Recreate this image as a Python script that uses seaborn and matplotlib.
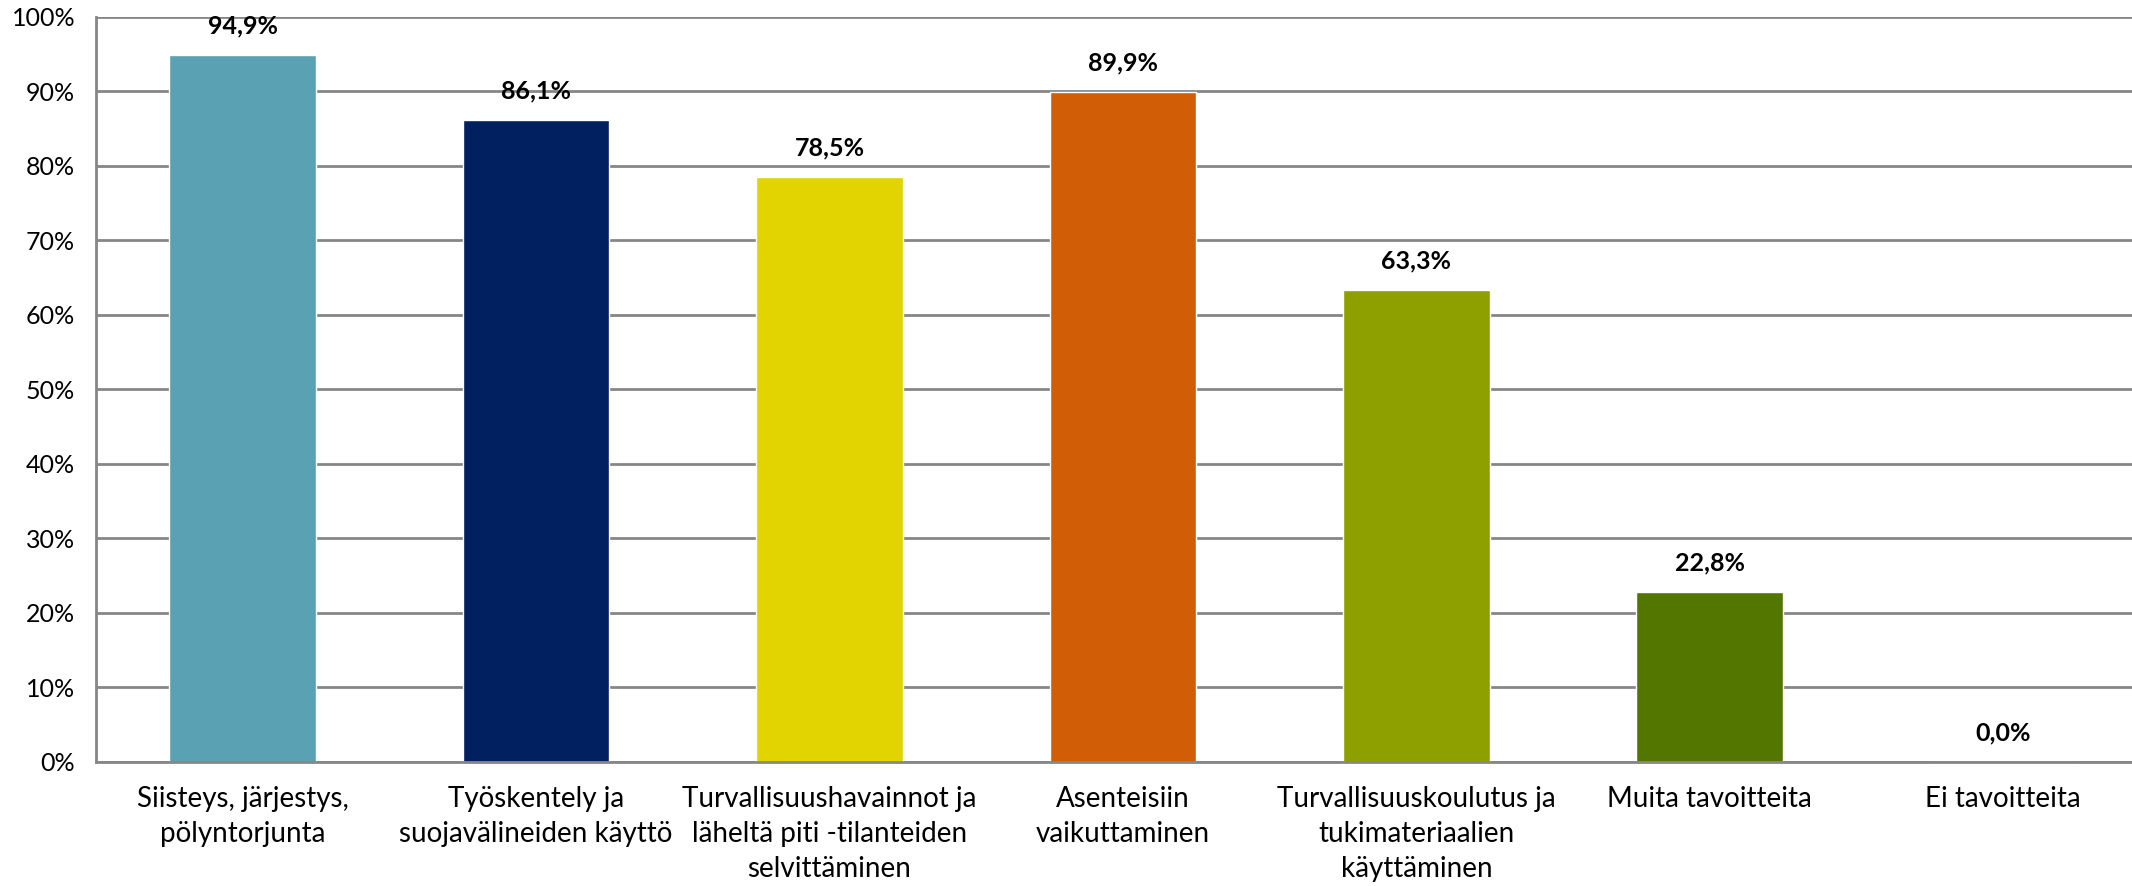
import pandas as pd
import numpy as np
import matplotlib.pyplot as plt
import seaborn as sns
from matplotlib.ticker import PercentFormatter

sns.set_style('white')
plt.rcParams['font.family'] = ['Lato', 'DejaVu Sans']

categories = ['Siisteys, järjestys,\npölyntorjunta',
              'Työskentely ja\nsuojavälineiden käyttö',
              'Turvallisuushavainnot ja\nläheltä piti -tilanteiden\nselvittäminen',
              'Asenteisiin\nvaikuttaminen',
              'Turvallisuuskoulutus ja\ntukimateriaalien\nkäyttäminen',
              'Muita tavoitteita',
              'Ei tavoitteita']
values = [94.9, 86.1, 78.5, 89.9, 63.3, 22.8, 0.0]
colors = ['#5BA1B4', '#002060', '#E1D400', '#D15E07', '#8DA000', '#537600', '#7F7F7F']

df = pd.DataFrame({'Tavoite': categories, 'Osuus': values})

fig = plt.figure(figsize=(21.32, 8.86), dpi=100)
# plot area runs a little past the right edge, as in the original export
ax = fig.add_axes([0.045, 0.14, 0.9634, 0.841])
sns.barplot(data=df, x='Tavoite', y='Osuus', hue='Tavoite', palette=colors,
            legend=False, width=0.5, saturation=1, ax=ax)

ax.set_xlim(-0.5, len(categories) - 0.5)
ax.set_ylim(0, 100)
ax.set_yticks(np.arange(0, 101, 10))
ax.yaxis.set_major_formatter(PercentFormatter(decimals=0))
ax.grid(axis='y', color='#868686', linewidth=2)
ax.set_axisbelow(True)
ax.set_xlabel('')
ax.set_ylabel('')
for s in ['top', 'right']:
    ax.spines[s].set_visible(False)
for s in ['left', 'bottom']:
    ax.spines[s].set_color('#868686')
    ax.spines[s].set_linewidth(2)
ax.tick_params(axis='y', length=0, pad=15, labelsize=18, labelcolor='#000000')
ax.tick_params(axis='x', length=0, pad=17, labelsize=20, labelcolor='#000000')
for lbl in ax.get_xticklabels():
    lbl.set_linespacing(1.45)

for i, v in enumerate(values):
    ax.annotate(f'{v:.1f}%'.replace('.', ','), (i, v), xytext=(0, 21),
                textcoords='offset points', ha='center', va='center',
                fontsize=18, fontweight='bold', color='#000000')

fig.savefig('out.png', dpi=100)
